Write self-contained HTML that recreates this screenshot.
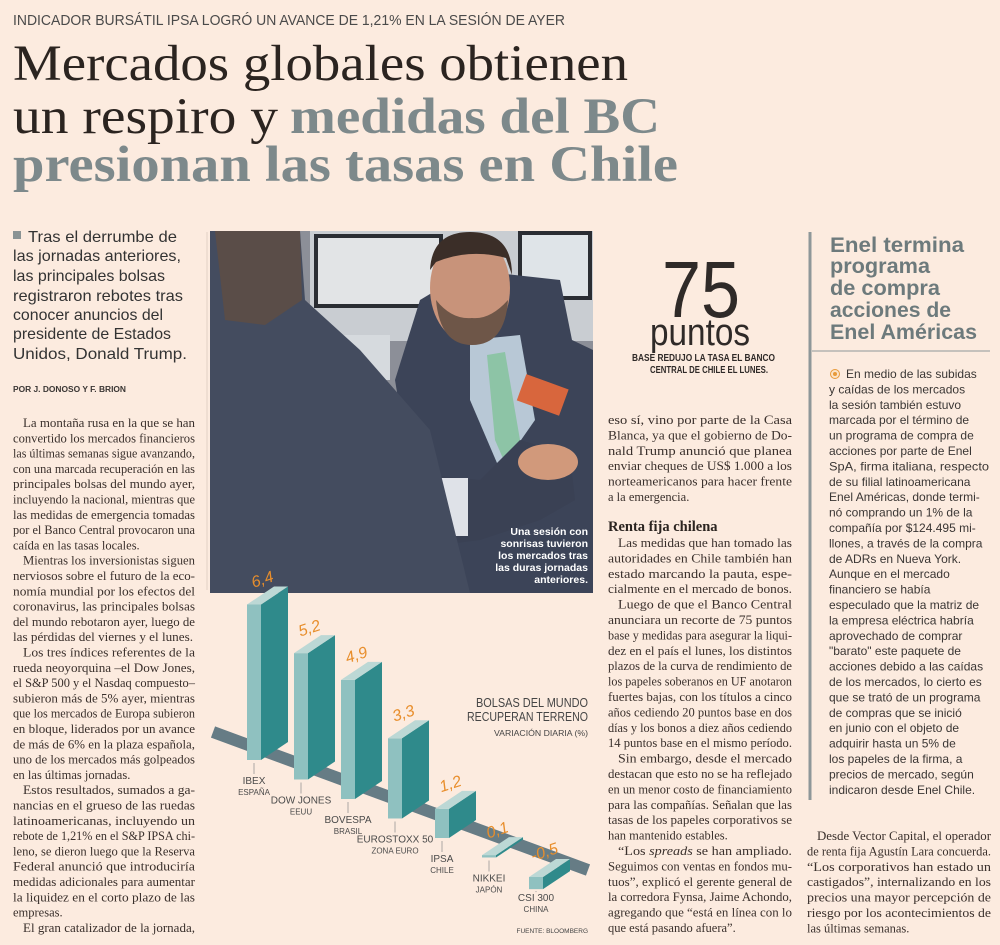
<!DOCTYPE html>
<html><head><meta charset="utf-8">
<style>
html,body{margin:0;padding:0;background:#fcebdf;}
svg{display:block;}
.ser{font-family:"Liberation Serif",serif;font-size:12.5px;fill:#3a302c;}
.san{font-family:"Liberation Sans",sans-serif;font-size:12px;fill:#3a3634;}
</style></head>
<body>
<svg width="1000" height="945" viewBox="0 0 1000 945" xmlns="http://www.w3.org/2000/svg">
<rect x="0" y="0" width="1000" height="945" fill="#fcebdf"/>

<!-- Header -->
<text x="13" y="25" font-family="Liberation Sans, sans-serif" font-size="15" fill="#4a4a4a" textLength="552" lengthAdjust="spacingAndGlyphs">INDICADOR BURSÁTIL IPSA LOGRÓ UN AVANCE DE 1,21% EN LA SESIÓN DE AYER</text>
<g font-family="Liberation Serif, serif" font-size="51">
<text x="13" y="80" fill="#2b2420" textLength="615" lengthAdjust="spacingAndGlyphs">Mercados globales obtienen</text>
<text x="13" y="133" fill="#2b2420" textLength="265" lengthAdjust="spacingAndGlyphs">un respiro y</text>
<text x="290" y="133" fill="#7d898b" font-weight="bold" textLength="370" lengthAdjust="spacingAndGlyphs">medidas del BC</text>
<text x="13" y="181" fill="#7d898b" font-weight="bold" textLength="665" lengthAdjust="spacingAndGlyphs">presionan las tasas en Chile</text>
</g>

<!-- Deck -->
<g font-family="Liberation Sans, sans-serif" font-size="16" fill="#333">
<rect x="13" y="231" width="8" height="8" fill="#8a9394"/>
<text x="28" y="242" textLength="149" lengthAdjust="spacingAndGlyphs">Tras el derrumbe de</text>
<text x="13" y="261" textLength="168" lengthAdjust="spacingAndGlyphs">las jornadas anteriores,</text>
<text x="13" y="281" textLength="152" lengthAdjust="spacingAndGlyphs">las principales bolsas</text>
<text x="13" y="301" textLength="170" lengthAdjust="spacingAndGlyphs">registraron rebotes tras</text>
<text x="13" y="320" textLength="150" lengthAdjust="spacingAndGlyphs">conocer anuncios del</text>
<text x="13" y="339" textLength="158" lengthAdjust="spacingAndGlyphs">presidente de Estados</text>
<text x="13" y="359" textLength="174" lengthAdjust="spacingAndGlyphs">Unidos, Donald Trump.</text>
</g>
<text x="13" y="392" font-family="Liberation Sans, sans-serif" font-size="8" font-weight="bold" fill="#3a3634" textLength="113" lengthAdjust="spacingAndGlyphs">POR J. DONOSO Y F. BRION</text>
<line x1="207" y1="232" x2="207" y2="590" stroke="#e2d2c6" stroke-width="1"/>

<!-- Left column -->
<g class="ser">
<text x="23" y="427" textLength="172" lengthAdjust="spacingAndGlyphs">La montaña rusa en la que se han</text>
<text x="13" y="442.3" textLength="182" lengthAdjust="spacingAndGlyphs">convertido los mercados financieros</text>
<text x="13" y="457.6" textLength="182" lengthAdjust="spacingAndGlyphs">las últimas semanas sigue avanzando,</text>
<text x="13" y="472.9" textLength="182" lengthAdjust="spacingAndGlyphs">con una marcada recuperación en las</text>
<text x="13" y="488.2" textLength="182" lengthAdjust="spacingAndGlyphs">principales bolsas del mundo ayer,</text>
<text x="13" y="503.5" textLength="182" lengthAdjust="spacingAndGlyphs">incluyendo la nacional, mientras que</text>
<text x="13" y="518.8" textLength="182" lengthAdjust="spacingAndGlyphs">las medidas de emergencia tomadas</text>
<text x="13" y="534.1" textLength="182" lengthAdjust="spacingAndGlyphs">por el Banco Central provocaron una</text>
<text x="13" y="549.4">caída en las tasas locales.</text>
<text x="23" y="564.7" textLength="172" lengthAdjust="spacingAndGlyphs">Mientras los inversionistas siguen</text>
<text x="13" y="580" textLength="182" lengthAdjust="spacingAndGlyphs">nerviosos sobre el futuro de la eco-</text>
<text x="13" y="595.3" textLength="182" lengthAdjust="spacingAndGlyphs">nomía mundial por los efectos del</text>
<text x="13" y="610.6" textLength="182" lengthAdjust="spacingAndGlyphs">coronavirus, las principales bolsas</text>
<text x="13" y="625.9" textLength="182" lengthAdjust="spacingAndGlyphs">del mundo rebotaron ayer, luego de</text>
<text x="13" y="641.2" textLength="180" lengthAdjust="spacingAndGlyphs">las pérdidas del viernes y el lunes.</text>
<text x="23" y="656.5" textLength="172" lengthAdjust="spacingAndGlyphs">Los tres índices referentes de la</text>
<text x="13" y="671.8" textLength="182" lengthAdjust="spacingAndGlyphs">rueda neoyorquina –el Dow Jones,</text>
<text x="13" y="687.1" textLength="182" lengthAdjust="spacingAndGlyphs">el S&amp;P 500 y el Nasdaq compuesto–</text>
<text x="13" y="702.4" textLength="182" lengthAdjust="spacingAndGlyphs">subieron más de 5% ayer, mientras</text>
<text x="13" y="717.7" textLength="182" lengthAdjust="spacingAndGlyphs">que los mercados de Europa subieron</text>
<text x="13" y="733" textLength="182" lengthAdjust="spacingAndGlyphs">en bloque, liderados por un avance</text>
<text x="13" y="748.3" textLength="182" lengthAdjust="spacingAndGlyphs">de más de 6% en la plaza española,</text>
<text x="13" y="763.6" textLength="182" lengthAdjust="spacingAndGlyphs">uno de los mercados más golpeados</text>
<text x="13" y="778.9">en las últimas jornadas.</text>
<text x="23" y="794.2" textLength="172" lengthAdjust="spacingAndGlyphs">Estos resultados, sumados a ga-</text>
<text x="13" y="809.5" textLength="182" lengthAdjust="spacingAndGlyphs">nancias en el grueso de las ruedas</text>
<text x="13" y="824.8" textLength="182" lengthAdjust="spacingAndGlyphs">latinoamericanas, incluyendo un</text>
<text x="13" y="840.1" textLength="182" lengthAdjust="spacingAndGlyphs">rebote de 1,21% en el S&amp;P IPSA chi-</text>
<text x="13" y="855.4" textLength="182" lengthAdjust="spacingAndGlyphs">leno, se dieron luego que la Reserva</text>
<text x="13" y="870.7" textLength="182" lengthAdjust="spacingAndGlyphs">Federal anunció que introduciría</text>
<text x="13" y="886" textLength="182" lengthAdjust="spacingAndGlyphs">medidas adicionales para aumentar</text>
<text x="13" y="901.3" textLength="182" lengthAdjust="spacingAndGlyphs">la liquidez en el corto plazo de las</text>
<text x="13" y="916.6">empresas.</text>
<text x="23" y="931.9" textLength="172" lengthAdjust="spacingAndGlyphs">El gran catalizador de la jornada,</text>
</g>

<!-- Photo -->
<g>
<rect x="210" y="231" width="383" height="362" fill="#8c8f98"/>
<rect x="310" y="231" width="283" height="110" fill="#c9cdd2"/>
<rect x="316" y="236" width="125" height="70" fill="#e2e4e6" stroke="#2a2d33" stroke-width="4"/>
<rect x="520" y="233" width="70" height="65" fill="#dfe4e8" stroke="#2a2d33" stroke-width="4"/>
<rect x="330" y="335" width="60" height="45" fill="#d6dade"/>
<path d="M395 380 L420 300 L470 270 L560 280 L572 340 L593 350 L593 593 L430 593 Z" fill="#3c4458"/>
<path d="M470 340 L520 335 L535 420 L500 470 L470 400 Z" fill="#b8c8d6"/>
<path d="M487 355 L505 352 L520 440 L508 470 L495 440 Z" fill="#8dc4a6"/>
<ellipse cx="470" cy="288" rx="40" ry="55" fill="#c8937a"/>
<path d="M430 270 Q432 232 470 232 Q512 232 512 275 L506 258 Q470 248 436 262 Z" fill="#3b2e28"/>
<path d="M436 300 Q440 345 472 345 Q505 345 508 300 Q490 320 472 318 Q452 320 436 300 Z" fill="#6e5648"/>
<path d="M430 475 L480 480 L520 440 L570 455 L575 500 L540 520 L480 540 L440 545 Z" fill="#3a4154"/>
<rect x="428" y="478" width="40" height="58" fill="#dfe2e8"/>
<ellipse cx="548" cy="462" rx="30" ry="18" fill="#d1997b"/>
<rect x="520" y="380" width="45" height="28" fill="#d8663d" transform="rotate(20 540 395)"/>
<path d="M210 231 L300 231 L305 300 L360 350 L430 430 L470 593 L210 593 Z" fill="#444c5f"/>
<path d="M215 231 L300 231 L302 300 L265 325 L225 320 Z" fill="#5a4d48"/>
<g font-family="Liberation Sans, sans-serif" font-size="10.5" font-weight="bold" fill="#ffffff" text-anchor="end">
<text x="588" y="535">Una sesión con</text>
<text x="588" y="547">sonrisas tuvieron</text>
<text x="588" y="559">los mercados tras</text>
<text x="588" y="571">las duras jornadas</text>
<text x="588" y="583">anteriores.</text>
</g>
</g>

<!-- 75 puntos -->
<g font-family="Liberation Sans, sans-serif" fill="#2f2a28">
<text x="662" y="317" font-size="80" textLength="78" lengthAdjust="spacingAndGlyphs">75</text>
<text x="650" y="345" font-size="38" textLength="100" lengthAdjust="spacingAndGlyphs">puntos</text>
<text x="632" y="361" font-size="10.5" font-weight="bold" textLength="143" lengthAdjust="spacingAndGlyphs">BASE REDUJO LA TASA EL BANCO</text>
<text x="650" y="373" font-size="10.5" font-weight="bold" textLength="118" lengthAdjust="spacingAndGlyphs">CENTRAL DE CHILE EL LUNES.</text>
</g>

<!-- Middle column -->
<g class="ser">
<text x="608" y="424" textLength="184" lengthAdjust="spacingAndGlyphs">eso sí, vino por parte de la Casa</text>
<text x="608" y="439.4" textLength="184" lengthAdjust="spacingAndGlyphs">Blanca, ya que el gobierno de Do-</text>
<text x="608" y="454.8" textLength="184" lengthAdjust="spacingAndGlyphs">nald Trump anunció que planea</text>
<text x="608" y="470.2" textLength="184" lengthAdjust="spacingAndGlyphs">enviar cheques de US$ 1.000 a los</text>
<text x="608" y="485.6" textLength="184" lengthAdjust="spacingAndGlyphs">norteamericanos para hacer frente</text>
<text x="608" y="501">a la emergencia.</text>
<text x="608" y="531" font-size="14.5" font-weight="bold" fill="#2b2420">Renta fija chilena</text>
<text x="618" y="547" textLength="174" lengthAdjust="spacingAndGlyphs">Las medidas que han tomado las</text>
<text x="608" y="562.4" textLength="184" lengthAdjust="spacingAndGlyphs">autoridades en Chile también han</text>
<text x="608" y="577.8" textLength="184" lengthAdjust="spacingAndGlyphs">estado marcando la pauta, espe-</text>
<text x="608" y="593.2" textLength="184" lengthAdjust="spacingAndGlyphs">cialmente en el mercado de bonos.</text>
<text x="618" y="608.6" textLength="174" lengthAdjust="spacingAndGlyphs">Luego de que el Banco Central</text>
<text x="608" y="624" textLength="184" lengthAdjust="spacingAndGlyphs">anunciara un recorte de 75 puntos</text>
<text x="608" y="639.4" textLength="184" lengthAdjust="spacingAndGlyphs">base y medidas para asegurar la liqui-</text>
<text x="608" y="654.8" textLength="184" lengthAdjust="spacingAndGlyphs">dez en el país el lunes, los distintos</text>
<text x="608" y="670.2" textLength="184" lengthAdjust="spacingAndGlyphs">plazos de la curva de rendimiento de</text>
<text x="608" y="685.6" textLength="184" lengthAdjust="spacingAndGlyphs">los papeles soberanos en UF anotaron</text>
<text x="608" y="701" textLength="184" lengthAdjust="spacingAndGlyphs">fuertes bajas, con los títulos a cinco</text>
<text x="608" y="716.4" textLength="184" lengthAdjust="spacingAndGlyphs">años cediendo 20 puntos base en dos</text>
<text x="608" y="731.8" textLength="184" lengthAdjust="spacingAndGlyphs">días y los bonos a diez años cediendo</text>
<text x="608" y="747.2" textLength="184" lengthAdjust="spacingAndGlyphs">14 puntos base en el mismo período.</text>
<text x="618" y="762.6" textLength="174" lengthAdjust="spacingAndGlyphs">Sin embargo, desde el mercado</text>
<text x="608" y="778" textLength="184" lengthAdjust="spacingAndGlyphs">destacan que esto no se ha reflejado</text>
<text x="608" y="793.4" textLength="184" lengthAdjust="spacingAndGlyphs">en un menor costo de financiamiento</text>
<text x="608" y="808.8" textLength="184" lengthAdjust="spacingAndGlyphs">para las compañías. Señalan que las</text>
<text x="608" y="824.2" textLength="184" lengthAdjust="spacingAndGlyphs">tasas de los papeles corporativos se</text>
<text x="608" y="839.6">han mantenido estables.</text>
<text x="618" y="855" textLength="174" lengthAdjust="spacingAndGlyphs">“Los <tspan font-style="italic">spreads</tspan> se han ampliado.</text>
<text x="608" y="870.4" textLength="184" lengthAdjust="spacingAndGlyphs">Seguimos con ventas en fondos mu-</text>
<text x="608" y="885.8" textLength="184" lengthAdjust="spacingAndGlyphs">tuos”, explicó el gerente general de</text>
<text x="608" y="901.2" textLength="184" lengthAdjust="spacingAndGlyphs">la corredora Fynsa, Jaime Achondo,</text>
<text x="608" y="916.6" textLength="184" lengthAdjust="spacingAndGlyphs">agregando que “está en línea con lo</text>
<text x="608" y="932">que está pasando afuera”.</text>
</g>

<!-- Right sidebar -->
<line x1="810" y1="232" x2="810" y2="800" stroke="#8e9799" stroke-width="3"/>
<line x1="812" y1="351" x2="990" y2="351" stroke="#8e9799" stroke-width="1"/>
<g font-family="Liberation Sans, sans-serif" font-size="21" font-weight="bold" fill="#6d7a7c">
<text x="830" y="252" textLength="134" lengthAdjust="spacingAndGlyphs">Enel termina</text>
<text x="830" y="273" textLength="100" lengthAdjust="spacingAndGlyphs">programa</text>
<text x="830" y="295" textLength="110" lengthAdjust="spacingAndGlyphs">de compra</text>
<text x="830" y="317" textLength="121" lengthAdjust="spacingAndGlyphs">acciones de</text>
<text x="830" y="339" textLength="147" lengthAdjust="spacingAndGlyphs">Enel Américas</text>
</g>
<circle cx="835" cy="374" r="4.5" fill="#fbe3c8" stroke="#e89a3a" stroke-width="1"/>
<circle cx="835" cy="374" r="2" fill="#e89a3a"/>
<g class="san">
<text x="846" y="378">En medio de las subidas</text>
<text x="829" y="393.4">y caídas de los mercados</text>
<text x="829" y="408.8">la sesión también estuvo</text>
<text x="829" y="424.2">marcada por el término de</text>
<text x="829" y="439.6">un programa de compra de</text>
<text x="829" y="455">acciones por parte de Enel</text>
<text x="829" y="470.4" textLength="160" lengthAdjust="spacingAndGlyphs">SpA, firma italiana, respecto</text>
<text x="829" y="485.8">de su filial latinoamericana</text>
<text x="829" y="501.2">Enel Américas, donde termi-</text>
<text x="829" y="516.6">nó comprando un 1% de la</text>
<text x="829" y="532">compañía por $124.495 mi-</text>
<text x="829" y="547.4">llones, a través de la compra</text>
<text x="829" y="562.8">de ADRs en Nueva York.</text>
<text x="829" y="578.2">Aunque en el mercado</text>
<text x="829" y="593.6">financiero se había</text>
<text x="829" y="609">especulado que la matriz de</text>
<text x="829" y="624.4">la empresa eléctrica habría</text>
<text x="829" y="639.8">aprovechado de comprar</text>
<text x="829" y="655.2">"barato" este paquete de</text>
<text x="829" y="670.6">acciones debido a las caídas</text>
<text x="829" y="686">de los mercados, lo cierto es</text>
<text x="829" y="701.4">que se trató de un programa</text>
<text x="829" y="716.8">de compras que se inició</text>
<text x="829" y="732.2">en junio con el objeto de</text>
<text x="829" y="747.6">adquirir hasta un 5% de</text>
<text x="829" y="763">los papeles de la firma, a</text>
<text x="829" y="778.4">precios de mercado, según</text>
<text x="829" y="793.8">indicaron desde Enel Chile.</text>
</g>
<g class="ser">
<text x="817" y="840" textLength="174" lengthAdjust="spacingAndGlyphs">Desde Vector Capital, el operador</text>
<text x="807" y="855.4" textLength="184" lengthAdjust="spacingAndGlyphs">de renta fija Agustín Lara concuerda.</text>
<text x="807" y="870.8" textLength="184" lengthAdjust="spacingAndGlyphs">“Los corporativos han estado un</text>
<text x="807" y="886.2" textLength="184" lengthAdjust="spacingAndGlyphs">castigados”, internalizando en los</text>
<text x="807" y="901.6" textLength="184" lengthAdjust="spacingAndGlyphs">precios una mayor percepción de</text>
<text x="807" y="917" textLength="184" lengthAdjust="spacingAndGlyphs">riesgo por los acontecimientos de</text>
<text x="807" y="932.4">las últimas semanas.</text>
</g>

<!-- Chart -->
<g id="chart">
<line x1="213" y1="732" x2="588" y2="870" stroke="#56707c" stroke-width="12" opacity="0.9"/>
<g font-family="Liberation Sans, sans-serif" fill="#454545" text-anchor="end">
<text x="588" y="707" font-size="13" textLength="112" lengthAdjust="spacingAndGlyphs">BOLSAS DEL MUNDO</text>
<text x="588" y="721" font-size="13" textLength="121" lengthAdjust="spacingAndGlyphs">RECUPERAN TERRENO</text>
<text x="588" y="736" font-size="8" textLength="94" lengthAdjust="spacingAndGlyphs">VARIACIÓN DIARIA (%)</text>
<text x="588" y="933" font-size="6.5">FUENTE: BLOOMBERG</text>
</g>
</g>
</svg>
<script>
const categories = ['IBEX','DOW JONES','BOVESPA','EUROSTOXX 50','IPSA','NIKKEI','CSI 300'];
const regions = ['ESPAÑA','EEUU','BRASIL','ZONA EURO','CHILE','JAPÓN','CHINA'];
const values = [6.4, 5.2, 4.9, 3.3, 1.2, 0.1, -0.5];
const valueLabels = ['6,4','5,2','4,9','3,3','1,2','0,1','-0,5'];

const NS = 'http://www.w3.org/2000/svg';
const chart = document.getElementById('chart');
function xPos(i){ return 247 + i * 47; }
function baseY(i){ return 760 + i * 19.5; }
function hScale(v){ return v * 24.3; }
function mk(tag, attrs){ const e = document.createElementNS(NS, tag); for (const k in attrs) e.setAttribute(k, attrs[k]); return e; }

values.forEach(function(v, i){
  const x = xPos(i), b = baseY(i), h = hScale(v);
  const top = Math.min(b, b - h), bot = Math.max(b, b - h);
  const hh = Math.max(bot - top, 2);
  const g = mk('g', {});
  
  
  const side = mk('polygon', {points: (x+14)+','+(top+hh)+' '+(x+41)+','+(top+hh-18)+' '+(x+41)+','+(top-18)+' '+(x+14)+','+top, fill: '#2f8a8b'});
  
  
  const front = mk('rect', {x: x, y: top, width: 14, height: hh, fill: '#8fc1c0'});
  
  
  const cap = mk('polygon', {points: x+','+top+' '+(x+14)+','+top+' '+(x+41)+','+(top-18)+' '+(x+27)+','+(top-18), fill: '#bcd8d5'});
  
  
  g.appendChild(side); g.appendChild(front); g.appendChild(cap);
  const lead = mk('line', {x1: x+7, y1: bot+3, x2: x+7, y2: b+14, stroke: '#8a8a8a', 'stroke-width': 0.7});
  
  
  g.appendChild(lead);
  const vl = mk('text', {x: x+17, y: top-20, 'font-family': 'Liberation Sans, sans-serif', 'font-size': 16, 'font-style': 'italic', fill: '#e88e2c', 'text-anchor': 'middle', transform: 'rotate(-18 '+(x+17)+' '+(top-20)+')'});
  vl.textContent = valueLabels[i];
  
  
  g.appendChild(vl);
  const cl = mk('text', {x: x+7, y: b+24, 'font-family': 'Liberation Sans, sans-serif', 'font-size': 10, fill: '#4a4a4a', 'text-anchor': 'middle'});
  cl.textContent = categories[i];
  
  
  g.appendChild(cl);
  const rl = mk('text', {x: x+7, y: b+35, 'font-family': 'Liberation Sans, sans-serif', 'font-size': 8, fill: '#4a4a4a', 'text-anchor': 'middle'});
  rl.textContent = regions[i];
  
  
  g.appendChild(rl);
  chart.appendChild(g);
});
</script>
</body></html>
